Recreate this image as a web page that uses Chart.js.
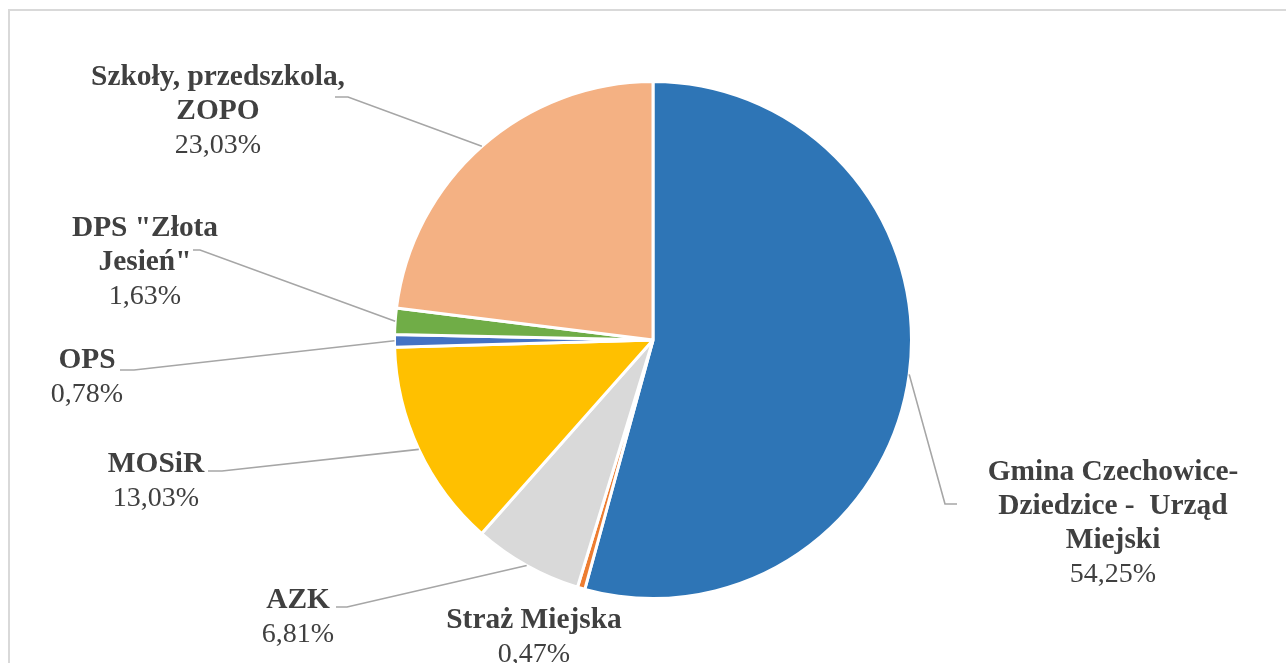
<!DOCTYPE html>
<html>
<head>
<meta charset="utf-8">
<script src="https://cdn.jsdelivr.net/npm/chart.js@4.4.1/dist/chart.umd.min.js"></script>
<style>
  body { margin: 0; background: #fff; }
  canvas { display: block; }
</style>
</head>
<body>
<canvas id="c" width="1286" height="663"></canvas>
<script>
const categories = [
  ['Gmina Czechowice-', 'Dziedzice -  Urząd', 'Miejski'],
  ['Straż Miejska'],
  ['AZK'],
  ['MOSiR'],
  ['OPS'],
  ['DPS "Złota', 'Jesień"'],
  ['Szkoły, przedszkola,', 'ZOPO']
];
const shares = [54.25, 0.47, 6.81, 13.03, 0.78, 1.63, 23.03];
const colors = ['#2e75b6', '#ed7d31', '#d9d9d9', '#ffc000', '#4472c4', '#70ad47', '#f4b183'];

// where each label sits: centre x, first baseline, leader knee points
const labelPos = [
  { x: 1113, y: 480, knee: [[945, 504], [957, 504]] },
  { x: 534, y: 628, knee: null },
  { x: 298, y: 608, knee: [[347, 607], [336, 607]] },
  { x: 156, y: 472, knee: [[222, 471], [208, 471]] },
  { x: 87, y: 368, knee: [[134, 370], [120, 370]] },
  { x: 145, y: 236, knee: [[200, 250], [193, 250]] },
  { x: 218, y: 85, knee: [[348, 97], [335, 97]] }
];
const LINE_H = 34;
const TEXT = '#404040';

const outsideLabels = {
  id: 'outsideLabels',
  beforeDraw(chart) {
    const ctx = chart.ctx;
    ctx.save();
    ctx.strokeStyle = '#d9d9d9';
    ctx.lineWidth = 2;
    ctx.strokeRect(9, 10, 1400, 800);
    ctx.restore();
  },
  afterDatasetsDraw(chart) {
    const ctx = chart.ctx;
    const meta = chart.getDatasetMeta(0);
    ctx.save();
    meta.data.forEach((arc, i) => {
      const p = arc.getProps(['x', 'y', 'startAngle', 'endAngle', 'outerRadius'], true);
      const mid = (p.startAngle + p.endAngle) / 2;
      const pos = labelPos[i];
      if (pos.knee) {
        ctx.beginPath();
        ctx.moveTo(p.x + Math.cos(mid) * p.outerRadius, p.y + Math.sin(mid) * p.outerRadius);
        pos.knee.forEach(k => ctx.lineTo(k[0], k[1]));
        ctx.strokeStyle = '#a6a6a6';
        ctx.lineWidth = 1.6;
        ctx.stroke();
      }
      ctx.fillStyle = TEXT;
      ctx.textAlign = 'center';
      ctx.textBaseline = 'alphabetic';
      const lines = chart.data.labels[i];
      ctx.font = 'bold 29.4px "Liberation Serif", "Times New Roman", serif';
      lines.forEach((t, j) => ctx.fillText(t, pos.x, pos.y + j * LINE_H));
      ctx.font = '28px "Liberation Serif", "Times New Roman", serif';
      const pct = chart.data.datasets[0].data[i].toFixed(2).replace('.', ',') + '%';
      ctx.fillText(pct, pos.x, pos.y + lines.length * LINE_H);
    });
    ctx.restore();
  }
};

new Chart(document.getElementById('c'), {
  type: 'pie',
  data: {
    labels: categories,
    datasets: [{
      data: shares,
      backgroundColor: colors,
      borderColor: '#ffffff',
      borderWidth: 3
    }]
  },
  options: {
    responsive: false,
    animation: false,
    layout: { padding: { top: 80, bottom: 63, left: 393, right: 373 } },
    plugins: {
      legend: { display: false },
      tooltip: { enabled: false }
    }
  },
  plugins: [outsideLabels]
});
</script>
</body>
</html>
